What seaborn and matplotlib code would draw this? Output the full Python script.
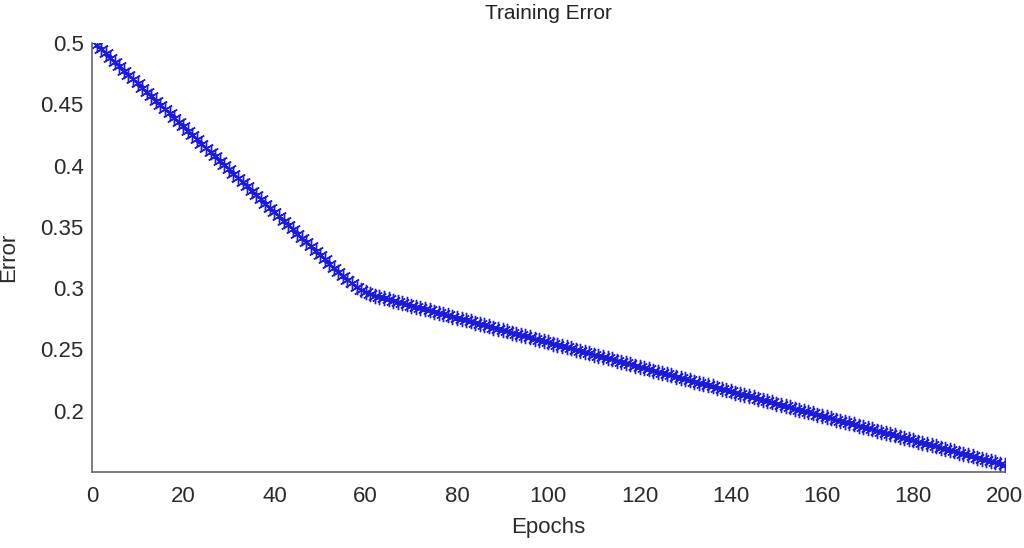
import numpy as np
import pandas as pd
import seaborn as sns
import matplotlib.pyplot as plt
from matplotlib.ticker import FixedLocator, FuncFormatter

# Training error per epoch
epochs = list(range(1, 201))
error = [
    0.4985, 0.4950, 0.4915, 0.4880, 0.4845, 0.4810, 0.4775, 0.4740, 0.4705, 0.4670,
    0.4635, 0.4600, 0.4565, 0.4530, 0.4495, 0.4460, 0.4425, 0.4390, 0.4355, 0.4320,
    0.4285, 0.4250, 0.4215, 0.4180, 0.4145, 0.4110, 0.4075, 0.4040, 0.4005, 0.3970,
    0.3935, 0.3900, 0.3865, 0.3830, 0.3795, 0.3760, 0.3725, 0.3690, 0.3655, 0.3620,
    0.3585, 0.3550, 0.3515, 0.3480, 0.3445, 0.3410, 0.3375, 0.3340, 0.3305, 0.3270,
    0.3235, 0.3200, 0.3166, 0.3133, 0.3100, 0.3068, 0.3038, 0.3010, 0.2987, 0.2967,
    0.2951, 0.2939, 0.2928, 0.2918, 0.2908, 0.2898, 0.2888, 0.2878, 0.2868, 0.2858,
    0.2848, 0.2838, 0.2828, 0.2818, 0.2808, 0.2798, 0.2788, 0.2778, 0.2768, 0.2758,
    0.2748, 0.2738, 0.2728, 0.2718, 0.2708, 0.2698, 0.2688, 0.2678, 0.2668, 0.2658,
    0.2648, 0.2638, 0.2628, 0.2618, 0.2608, 0.2598, 0.2588, 0.2578, 0.2568, 0.2558,
    0.2548, 0.2538, 0.2528, 0.2518, 0.2508, 0.2498, 0.2488, 0.2478, 0.2468, 0.2458,
    0.2448, 0.2438, 0.2428, 0.2418, 0.2408, 0.2398, 0.2388, 0.2378, 0.2368, 0.2358,
    0.2348, 0.2338, 0.2328, 0.2318, 0.2308, 0.2298, 0.2288, 0.2278, 0.2268, 0.2258,
    0.2248, 0.2238, 0.2228, 0.2218, 0.2208, 0.2198, 0.2188, 0.2178, 0.2168, 0.2158,
    0.2148, 0.2138, 0.2128, 0.2118, 0.2108, 0.2098, 0.2088, 0.2078, 0.2068, 0.2058,
    0.2048, 0.2038, 0.2028, 0.2018, 0.2008, 0.1998, 0.1988, 0.1978, 0.1968, 0.1958,
    0.1948, 0.1938, 0.1928, 0.1918, 0.1908, 0.1898, 0.1888, 0.1878, 0.1868, 0.1858,
    0.1848, 0.1838, 0.1828, 0.1818, 0.1808, 0.1798, 0.1788, 0.1778, 0.1768, 0.1758,
    0.1748, 0.1738, 0.1728, 0.1718, 0.1708, 0.1698, 0.1688, 0.1678, 0.1668, 0.1658,
    0.1648, 0.1638, 0.1628, 0.1618, 0.1608, 0.1598, 0.1588, 0.1578, 0.1568, 0.1558,
]
x_ticks = [0, 20, 40, 60, 80, 100, 120, 140, 160, 180, 200]
y_ticks = [0.2, 0.25, 0.3, 0.35, 0.4, 0.45, 0.5]

df = pd.DataFrame({'Epochs': epochs, 'Error': error})

sns.set_style('white')
plt.rcParams['font.family'] = ['Liberation Sans', 'DejaVu Sans']

fig = plt.figure(figsize=(10.24, 5.48), dpi=100)
ax = fig.add_axes([0.0898, 0.1387, 0.8912, 0.7828])

# matlab-style '*' marker: thin asterisk strokes
sns.lineplot(data=df, x='Epochs', y='Error', ax=ax, color='#1010ff',
             marker=(6, 2, 0), markersize=11, markeredgewidth=1.0,
             markeredgecolor='#1a1ae0', linewidth=1.5)

ax.set_xlim(0, 200)
ax.set_ylim(0.15, 0.5)
ax.xaxis.set_major_locator(FixedLocator(x_ticks))
ax.yaxis.set_major_locator(FixedLocator(y_ticks))
ax.yaxis.set_major_formatter(FuncFormatter(lambda v, p: f'{v:g}'))

sns.despine(ax=ax)
for s in ['left', 'bottom']:
    ax.spines[s].set_color('#666666')
    ax.spines[s].set_linewidth(1.2)
ax.tick_params(direction='in', length=6, width=1.2, color='#666666',
               labelsize=16, labelcolor='#2a2a2a', pad=10)
ax.tick_params(axis='y', pad=6)

ax.set_title('Training Error', fontsize=15, color='#222222', pad=17)
ax.set_xlabel('Epochs', fontsize=16, color='#2a2a2a', labelpad=7)
ax.set_ylabel('Error', fontsize=16, color='#2a2a2a', labelpad=15)

fig.savefig('out.png', dpi=100)
